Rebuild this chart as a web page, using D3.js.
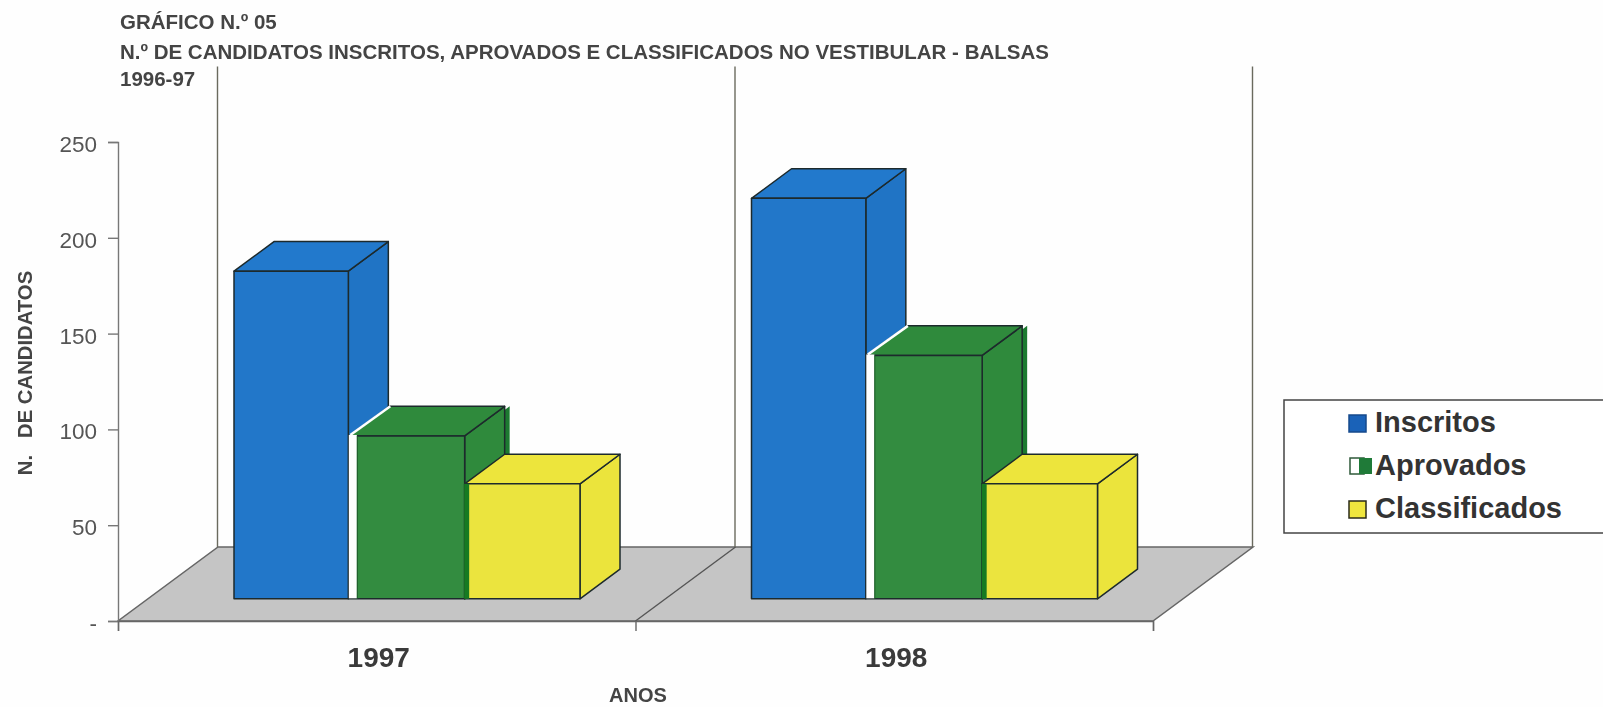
<!DOCTYPE html>
<html><head><meta charset="utf-8">
<script src="https://cdn.jsdelivr.net/npm/d3@7/dist/d3.min.js"></script>
<style>
html,body{margin:0;padding:0;background:#fefefe;overflow:hidden}
svg{display:block;filter:blur(0.45px)}
text{font-family:"Liberation Sans",Arial,sans-serif}
</style></head><body><svg id="c" width="1603" height="707"></svg>
<script>
const years = ["1997","1998"];
const seriesNames = ["Inscritos","Aprovados","Classificados"];
const inscritos = [171,209];
const aprovados = [85,127];
const classificados = [60,60];
const yTicks = [0,50,100,150,200,250];
const titleLines = ["GRÁFICO N.º 05","N.º DE CANDIDATOS INSCRITOS, APROVADOS E CLASSIFICADOS NO VESTIBULAR - BALSAS","1996-97"];
const faceColors = {Inscritos:["#2277c9","#2279cc","#2074c5"],Aprovados:["#338c40","#2f8a3c","#2f8a3c"],Classificados:["#ebe43e","#ede53c","#ebe43c"]};

const seriesValues = {Inscritos:inscritos,Aprovados:aprovados,Classificados:classificados};
const svg = d3.select("#c");
const x0 = d3.scaleBand().domain(years).range([118,1153]);
const xS = d3.scaleBand().domain(seriesNames).range([116,462]);
const y = d3.scaleLinear().domain([0,250]).range([621,142]);
const DX = 100, DY = 74;               // full floor depth
const fFront = 0.30, fBack = 0.70;     // bar depth within the floor
const P = (x,yy,f)=>[x+DX*f,yy-DY*f];
const pts = a=>a.map(p=>p.join(",")).join(" ");
const edge = "#1d2a2c";

// floor
const base = y(0), x1 = x0.range()[1], xL = x0.range()[0];
svg.append("polygon").attr("points",pts([P(xL,base,0),P(x1,base,0),P(x1,base,1),P(xL,base,1)]))
  .attr("fill","#c5c5c5").attr("stroke","#666").attr("stroke-width",1.5);
// walls
const walls = [...years.map(d=>x0(d)), x1];
svg.selectAll("line.wall").data(walls).join("line").attr("class","wall")
  .attr("x1",d=>P(d,base,1)[0]-0.5).attr("x2",d=>P(d,base,1)[0]-0.5)
  .attr("y1",P(0,base,1)[1]).attr("y2",P(0,y(250),1)[1]-1.5)
  .attr("stroke","#6a6a5e").attr("stroke-width",1.4);
svg.selectAll("line.div").data([x0("1998")]).join("line").attr("class","div")
  .attr("x1",d=>d).attr("y1",base).attr("x2",d=>P(d,base,1)[0]).attr("y2",P(0,base,1)[1])
  .attr("stroke","#555").attr("stroke-width",1.4);

// bars
years.forEach((yr,i)=>{
  seriesNames.forEach(s=>{
    const v = seriesValues[s][i];
    let l = x0(yr)+xS(s), r = l+xS.bandwidth();
    const [cF,cT,cS] = faceColors[s];
    if(s==="Inscritos"){ r-=1; }
    const h = y(v)-y(0);
    const bot = P(0,base,fFront)[1], top = bot+h;
    const A=[l,top],B=[r,top],C=[r,bot],D=[l,bot];
    const bk=p=>[p[0]+DX*(fBack-fFront),p[1]-DY*(fBack-fFront)];
    const g = svg.append("g").attr("stroke",edge).attr("stroke-width",1.5).attr("stroke-linejoin","round");
    if(s==="Aprovados"){
      g.append("polygon").attr("points",pts([B,bk(B),bk(C),C].map(p=>[p[0]+5,p[1]])))
        .attr("fill","#1c7a30").attr("stroke","none");
    }
    g.append("polygon").attr("points",pts([B,bk(B),bk(C),C])).attr("fill",cS);
    g.append("polygon").attr("points",pts([A,bk(A),bk(B),B])).attr("fill",cT);
    g.append("polygon").attr("points",pts([A,B,C,D])).attr("fill",cF);
    if(s==="Aprovados"){
      g.append("rect").attr("x",A[0]-0.5).attr("y",top-1).attr("width",8).attr("height",bot-top+0.5).attr("fill","#fff").attr("stroke","none");
      g.append("line").attr("x1",A[0]+1).attr("y1",top-1).attr("x2",bk(A)[0]+1).attr("y2",bk(A)[1]).attr("stroke","#fff").attr("stroke-width",2.5);
      g.append("line").attr("x1",A[0]+8).attr("y1",top).attr("x2",A[0]+8).attr("y2",bot).attr("stroke","#1f5a2a").attr("stroke-width",1);
    }
    if(s==="Classificados"){
      g.append("rect").attr("x",A[0]-0.5).attr("y",top).attr("width",5).attr("height",bot-top).attr("fill","#177a22").attr("stroke","none");
    }
  });
});

// axes
const ax = svg.append("g").attr("transform",`translate(${xL},0)`)
  .call(d3.axisLeft(y).tickValues(yTicks).tickSize(10).tickPadding(11).tickFormat(d=>d===0?"-":d));
ax.selectAll("text").attr("font-size",22.5).attr("dy","0.42em").attr("fill","#555").style("font-family",'"Liberation Sans",Arial,sans-serif');
ax.selectAll("line,path").attr("stroke","#777").attr("stroke-width",1.4);
const bx = svg.append("g").attr("transform",`translate(0,${base})`)
  .call(d3.axisBottom(d3.scaleLinear().domain([xL,x1]).range([xL,x1])).tickValues(walls).tickSize(10).tickFormat(""));
bx.selectAll("line,path").attr("stroke","#666").attr("stroke-width",1.4);

svg.selectAll("text.cat").data(years).join("text").attr("class","cat")
  .attr("x",d=>x0(d)+x0.bandwidth()/2+2).attr("y",667).attr("text-anchor","middle")
  .attr("font-size",28).attr("font-weight","bold").attr("fill","#3a3a3a").text(d=>d);

// titles
svg.selectAll("text.t").data(titleLines).join("text").attr("class","t")
  .attr("x",120).attr("y",(d,i)=>[29,59,86][i])
  .attr("font-size",20.5).attr("font-weight","bold").attr("fill","#444").text(d=>d);
svg.append("text").attr("x",638).attr("y",702).attr("text-anchor","middle")
  .attr("font-size",20).attr("font-weight","bold").attr("fill","#444").text("ANOS");
svg.append("text").attr("transform","translate(32,373) rotate(-90)").attr("text-anchor","middle")
  .attr("font-size",20.3).attr("font-weight","bold").attr("fill","#444").style("white-space","pre").text("N.   DE CANDIDATOS");

// legend
svg.append("rect").attr("x",1284).attr("y",400).attr("width",330).attr("height",133)
  .attr("fill","#fff").attr("stroke","#444").attr("stroke-width",1.5);
const legY = d3.scalePoint().domain(seriesNames).range([432,518]);
const lg = svg.selectAll("g.l").data(seriesNames).join("g").attr("class","l");
lg.append("text").attr("x",d=>d==="Aprovados"?1375:1375).attr("y",d=>legY(d)).attr("font-size",29).attr("font-weight","bold").attr("fill","#333").text(d=>d);
lg.filter(d=>d!=="Aprovados").append("rect").attr("x",1349).attr("y",d=>legY(d)-17).attr("width",17).attr("height",17)
  .attr("fill",d=>d==="Inscritos"?"#1a62b8":"#efe63e").attr("stroke",d=>d==="Inscritos"?"#164a8c":"#2b2b1a").attr("stroke-width",1.5);
const ap = lg.filter(d=>d==="Aprovados");
ap.append("rect").attr("x",1350).attr("y",d=>legY(d)-17).attr("width",14).attr("height",16).attr("fill","#fff").attr("stroke","#2f5a3a").attr("stroke-width",1.5);
ap.append("rect").attr("x",1359).attr("y",d=>legY(d)-17).attr("width",13).attr("height",16).attr("fill","#1f7a38");
</script></body></html>
